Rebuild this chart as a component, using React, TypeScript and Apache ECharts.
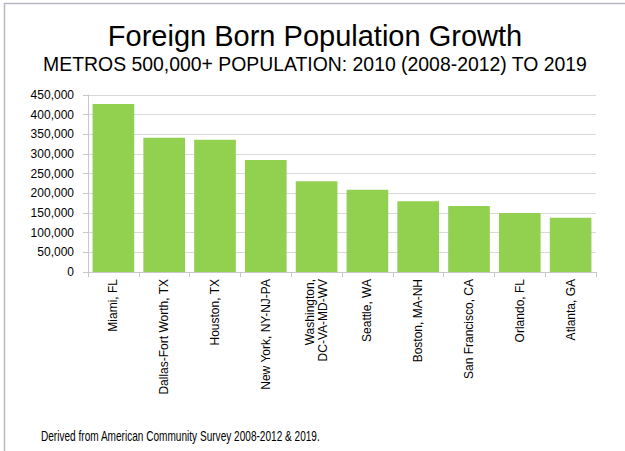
import React, { useEffect, useRef } from "react";
import * as echarts from "echarts";

const titleText = "Foreign Born Population Growth";
const subtitleText = "METROS 500,000+ POPULATION: 2010 (2008-2012) TO 2019";
const footerText = "Derived from American Community Survey 2008-2012 & 2019.";

const categories = [
  "Miami, FL",
  "Dallas-Fort Worth, TX",
  "Houston, TX",
  "New York, NY-NJ-PA",
  "Washington,\nDC-VA-MD-WV",
  "Seattle, WA",
  "Boston, MA-NH",
  "San Francisco, CA",
  "Orlando, FL",
  "Atlanta, GA",
];

const growth = [427000, 341000, 336000, 285000, 231000, 209000, 180000, 168000, 150000, 138000];

const yMin = 0;
const yMax = 450000;
const yStep = 50000;

const FONT = "Arial, 'Liberation Sans', Helvetica, sans-serif";

export default function App() {
  const ref = useRef<HTMLDivElement>(null);

  useEffect(() => {
    document.body.style.margin = "0";
    document.body.style.overflow = "hidden";
    document.documentElement.style.overflow = "hidden";
    if (!ref.current) return;
    const chart = echarts.init(ref.current, null, { renderer: "svg" });
    chart.setOption({
      animation: false,
      backgroundColor: "#ffffff",
      textStyle: { fontFamily: FONT },
      graphic: [
        {
          type: "polyline",
          shape: { points: [[4.5, 451], [4.5, 3.5], [625, 3.5]] },
          style: { stroke: "#b8b8c2", lineWidth: 1.5, fill: "none" },
          silent: true,
          z: 10,
        },
        {
          type: "text",
          x: 315,
          y: 36,
          style: {
            text: titleText,
            fontSize: 29,
            fontFamily: FONT,
            fill: "#000000",
            textAlign: "center",
            textVerticalAlign: "middle",
          },
        },
        {
          type: "text",
          x: 315,
          y: 64,
          style: {
            text: subtitleText,
            fontSize: 19.4,
            fontFamily: FONT,
            fill: "#000000",
            textAlign: "center",
            textVerticalAlign: "middle",
          },
        },
        {
          type: "text",
          x: 41,
          y: 436,
          scaleX: 0.72,
          style: {
            text: footerText,
            fontSize: 14,
            fontFamily: FONT,
            fill: "#000000",
            textAlign: "left",
            textVerticalAlign: "middle",
          },
        },
      ],
      grid: { left: 88, right: 29, top: 95, bottom: 179, containLabel: false },
      xAxis: {
        type: "category",
        data: categories,
        axisLine: { show: true, lineStyle: { color: "#c8c8c8" } },
        axisTick: { show: true, length: 5, lineStyle: { color: "#c8c8c8" } },
        axisLabel: {
          rotate: 90,
          interval: 0,
          fontSize: 12,
          color: "#000000",
          fontFamily: FONT,
          margin: 7,
          lineHeight: 13,
        },
      },
      yAxis: {
        type: "value",
        min: yMin,
        max: yMax,
        interval: yStep,
        axisLine: { show: true, lineStyle: { color: "#c8c8c8" } },
        axisTick: { show: true, length: 5, lineStyle: { color: "#c8c8c8" } },
        splitLine: { show: true, lineStyle: { color: "#d9d9d9" } },
        axisLabel: {
          fontSize: 12,
          color: "#000000",
          fontFamily: FONT,
          margin: 14,
          formatter: (v: number) => v.toLocaleString("en-US"),
        },
      },
      series: [
        {
          type: "bar",
          data: growth,
          barCategoryGap: "18%",
          itemStyle: { color: "#92d050" },
        },
      ],
    });
    return () => chart.dispose();
  }, []);

  return <div ref={ref} style={{ width: 625, height: 451 }} />;
}
